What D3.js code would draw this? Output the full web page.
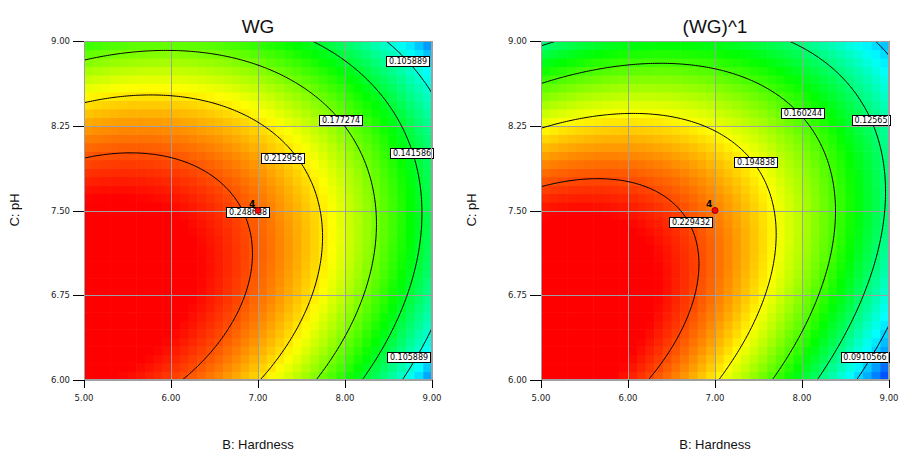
<!DOCTYPE html>
<html><head><meta charset="utf-8">
<script src="https://cdn.jsdelivr.net/npm/d3@7"></script>
<style>body{margin:0;background:#fff}svg{display:block}</style>
</head><body>
<svg id="c" width="901" height="453"></svg>
<script>
// axis ticks
const xTicks=[5,6,7,8,9], yTicks=[6,6.75,7.5,8.25,9];
const xTickLabels=["5.00","6.00","7.00","8.00","9.00"], yTickLabels=["6.00","6.75","7.50","8.25","9.00"];
// response-surface model (coded A=(Hardness-7)/2, B=(pH-7.5)/1.5), terms: 1, A, B, AB, A², B²
const modelTerms=["Intercept","A","B","AB","A^2","B^2"];
const wgCoef=[0.24283,-0.06909,-0.02789,0.02781,-0.04071,-0.05658];
const wg1Coef=[0.21926,-0.05886,-0.02830,0.04036,-0.03805,-0.05060];
// contour levels
const wgLevels=[0.105889,0.141586,0.177274,0.212956,0.248638];
const wg1Levels=[0.0910566,0.12565,0.160244,0.194838,0.229432];
// contour labels
const wgLabelX=[8.724,7.954,7.287,8.770,6.885,8.736], wgLabelY=[8.823,8.301,7.965,8.009,7.487,6.204];
const wgLabelText=["0.105889","0.177274","0.212956","0.141586","0.248638","0.105889"];
const wg1LabelX=[8.011,8.793,7.471,6.724,8.724], wg1LabelY=[8.363,8.301,7.929,7.398,6.204];
const wg1LabelText=["0.160244","0.12565","0.194838","0.229432","0.0910566"];
// design point
const designX=[7], designY=[7.5], designN=["4"];
// colour ramp anchor values (blue, cyan, green, yellow, red)
const wgColorStops=[0.058,0.097,0.151,0.207,0.268];
const wg1ColorStops=[0.051,0.099,0.147,0.195,0.243];

const svg=d3.select("#c");
const basis=(A,B)=>[1,A,B,A*B,A*A,B*B];
const stops=["#0000ff","#00ffff","#00ff00","#ffff00","#ff0000"];
const panels=[{title:"WG",L:84,coef:wgCoef,levels:wgLevels,cs:wgColorStops,lx:wgLabelX,ly:wgLabelY,lt:wgLabelText},
 {title:"(WG)^1",L:541,coef:wg1Coef,levels:wg1Levels,cs:wg1ColorStops,lx:wg1LabelX,ly:wg1LabelY,lt:wg1LabelText}];
const W=348,T=41,B=380;
panels.forEach((P,pi)=>{
 const f=(x,y)=>d3.sum(basis((x-7)/2,(y-7.5)/1.5),(v,i)=>v*P.coef[i]);
 const sx=d3.scaleLinear().domain([5,9]).range([P.L,P.L+W]);
 const sy=d3.scaleLinear().domain([6,9]).range([B,T]);
 const col=d3.scaleLinear().domain(P.cs).range(stops).clamp(true);
 const n=40, cells=[];
 for(let i=0;i<n;i++)for(let j=0;j<n;j++)cells.push({x0:5+4*i/n,x1:5+4*(i+1)/n,y0:6+3*j/n,y1:6+3*(j+1)/n});
 svg.append("g").selectAll("rect").data(cells).join("rect")
  .attr("x",d=>sx(d.x0)).attr("y",d=>sy(d.y1)).attr("width",d=>sx(d.x1)-sx(d.x0)+0.6).attr("height",d=>sy(d.y0)-sy(d.y1)+0.6)
  .attr("fill",d=>col(f((d.x0+d.x1)/2,(d.y0+d.y1)/2)));
 // grid
 svg.append("g").selectAll("line").data(xTicks).join("line").attr("x1",d=>Math.round(sx(d))+0.5).attr("x2",d=>Math.round(sx(d))+0.5).attr("y1",T).attr("y2",B).attr("stroke","#a0a0a0");
 svg.append("g").selectAll("line").data(yTicks).join("line").attr("y1",d=>Math.round(sy(d))+0.5).attr("y2",d=>Math.round(sy(d))+0.5).attr("x1",P.L).attr("x2",P.L+W).attr("stroke","#a0a0a0");
 // contours
 const nx=171,ny=131,xa=4.9,xb=9.1,ya=5.9,yb=9.1,stx=(xb-xa)/(nx-1),sty=(yb-ya)/(ny-1);
 const vals=[];for(let j=0;j<ny;j++)for(let i=0;i<nx;i++)vals.push(f(xa+i*stx,ya+j*sty));
 const cs=d3.contours().size([nx,ny]).thresholds(P.levels)(vals);
 const tr=d3.geoTransform({point(x,y){this.stream.point(sx(xa+(x-0.5)*stx),sy(ya+(y-0.5)*sty));}});
 const cid="clip"+pi;svg.append("clipPath").attr("id",cid).append("rect").attr("x",P.L).attr("y",T).attr("width",W).attr("height",B-T);
 svg.append("g").attr("clip-path",`url(#${cid})`).selectAll("path").data(cs).join("path").attr("d",d3.geoPath(tr)).attr("fill","none").attr("stroke","#000").attr("stroke-width",1);
 // contour labels
 const lg=svg.append("g").attr("font-family","DejaVu Sans").attr("font-size",8);
 P.lt.forEach((t,i)=>{const cx=sx(P.lx[i]),cy=sy(P.ly[i]);
  const tx=lg.append("text").attr("x",cx).attr("y",cy+3).attr("text-anchor","middle").text(t);
  const w=tx.node().getComputedTextLength()+5;
  lg.insert("rect","text").attr("x",Math.round(cx-w/2)+0.5).attr("y",Math.round(cy-5)+0.5).attr("width",Math.round(w)).attr("height",10).attr("fill","#fff").attr("stroke","#000");});
 // design point
 designX.forEach((d,i)=>{svg.append("circle").attr("cx",sx(d)).attr("cy",sy(designY[i])).attr("r",3).attr("fill","#ff0000").attr("stroke","#900");
  svg.append("text").attr("x",sx(d)-9).attr("y",sy(designY[i])-4).attr("font-family","DejaVu Sans").attr("font-weight","bold").attr("font-size",9).text(designN[i]);});
 // border
 svg.append("rect").attr("x",P.L+0.5).attr("y",T+0.5).attr("width",W-1).attr("height",B-T-1).attr("fill","none").attr("stroke","#a0a0a0");
 // ticks
 const ax=svg.append("g").attr("font-family","DejaVu Sans").attr("font-size",8.5).attr("fill","#222");
 ax.selectAll("line.tx").data(xTicks).join("line").attr("class","tx").attr("x1",d=>Math.round(sx(d))+0.5).attr("x2",d=>Math.round(sx(d))+0.5).attr("y1",B).attr("y2",B+8).attr("stroke","#000");
 ax.selectAll("text.tx").data(xTickLabels).join("text").attr("class","tx").attr("x",(d,i)=>sx(xTicks[i])).attr("y",B+21).attr("text-anchor","middle").text(d=>d);
 ax.selectAll("line.ty").data(yTicks).join("line").attr("class","ty").attr("y1",d=>Math.round(sy(d))+0.5).attr("y2",d=>Math.round(sy(d))+0.5).attr("x1",P.L-11).attr("x2",P.L).attr("stroke","#000");
 ax.selectAll("text.ty").data(yTickLabels).join("text").attr("class","ty").attr("x",P.L-14).attr("y",(d,i)=>sy(yTicks[i])+3).attr("text-anchor","end").text(d=>d);
 // titles
 svg.append("text").attr("x",P.L+W/2).attr("y",33).attr("text-anchor","middle").attr("font-family","Liberation Sans, Arial").attr("font-size",19).attr("fill","#111").text(P.title);
 svg.append("text").attr("x",P.L+W/2).attr("y",449).attr("text-anchor","middle").attr("font-family","Liberation Sans, Arial").attr("font-size",13).attr("fill","#111").text("B: Hardness");
 svg.append("text").attr("transform",`translate(${P.L-65},210) rotate(-90)`).attr("text-anchor","middle").attr("font-family","Liberation Sans, Arial").attr("font-size",13).attr("fill","#111").text("C: pH");
});
</script></body></html>
